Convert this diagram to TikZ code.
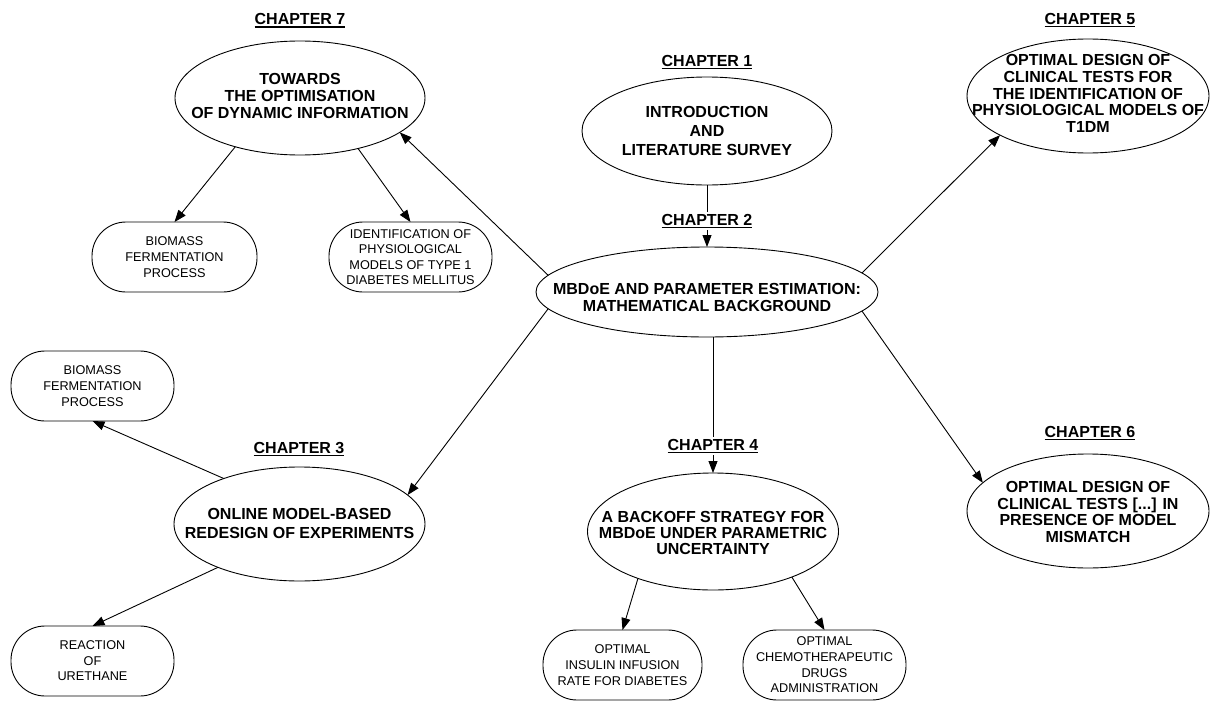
\documentclass[tikz,border=0pt]{standalone}
\usepackage{fontspec}
\setmainfont{Liberation Sans}
\usetikzlibrary{shapes.geometric,arrows.meta}
% underlined chapter heading with a controlled rule
\newcommand\chapul[1]{\setbox0\hbox{#1}\rlap{\rule[-2.8pt]{\wd0}{1.3pt}}\box0}
\begin{document}
\begin{tikzpicture}[x=1pt,y=-1pt,
  every node/.style={inner sep=0pt, outer sep=0pt},
  chapter/.style={font=\fontsize{16}{19}\selectfont\bfseries, anchor=base, inner sep=2pt},
  topic/.style={draw, ellipse, line width=0.9pt, inner sep=0pt},
  topictext/.style={align=center, font=\fontsize{16}{#1}\selectfont\bfseries},
  topictext/.default=17,
  casebox/.style={draw, rounded corners=34pt, line width=0.9pt, align=center,
    font=\fontsize{12.7}{#1}\selectfont, minimum height=70pt},
  casebox/.default=15.7,
  link/.style={line width=0.9pt},
  arrowlink/.style={link, -{Triangle[length=12pt,width=9pt]}}
]
\useasboundingbox (0,0) rectangle (1210,701);

% ---- chapter ellipses ----
\node[topic, minimum width=250, minimum height=114] (c7) at (300,98) {};
\node[topictext] (c7t) at (300,96) {TOWARDS\\THE OPTIMISATION\\OF DYNAMIC INFORMATION};
\node[chapter] (L7) at (300,25) {\chapul{CHAPTER 7}};

\node[topic, minimum width=250, minimum height=108] (c1) at (707,131) {};
\node[topictext=19] (c1t) at (707,131) {INTRODUCTION\\AND\\LITERATURE SURVEY};
\node[chapter] (L1) at (707,66.5) {\chapul{CHAPTER 1}};

\node[topic, minimum width=342, minimum height=90] (c2) at (707,292) {};
\node[topictext] (c2t) at (707,297.5) {MBDoE AND PARAMETER ESTIMATION:\\MATHEMATICAL BACKGROUND};
\node[chapter] (L2) at (707,225) {\chapul{CHAPTER 2}};

\node[topic, minimum width=242, minimum height=114] (c5) at (1088,96) {};
\node[topictext=16.75] (c5t) at (1088,93.5) {OPTIMAL DESIGN OF\\CLINICAL TESTS FOR\\THE IDENTIFICATION OF\\PHYSIOLOGICAL MODELS OF\\T1DM};
\node[chapter] (L5) at (1090,24.5) {\chapul{CHAPTER 5}};

\node[topic, minimum width=251, minimum height=114] (c3) at (299.5,524) {};
\node[topictext=19] (c3t) at (299.5,523.5) {ONLINE MODEL-BASED\\REDESIGN OF EXPERIMENTS};
\node[chapter] (L3) at (299,453) {\chapul{CHAPTER 3}};

\node[topic, minimum width=251, minimum height=117] (c4) at (713,531.5) {};
\node[topictext=16] (c4t) at (713,533) {A BACKOFF STRATEGY FOR\\MBDoE UNDER PARAMETRIC\\UNCERTAINTY};
\node[chapter] (L4) at (713,450.5) {\chapul{CHAPTER 4}};

\node[topic, minimum width=242, minimum height=114] (c6) at (1088,511) {};
\node[topictext=16.7] (c6t) at (1088,512) {OPTIMAL DESIGN OF\\CLINICAL TESTS [...] IN\\PRESENCE OF MODEL\\MISMATCH};
\node[chapter] (L6) at (1090,437) {\chapul{CHAPTER 6}};

% ---- case-study boxes ----
\node[casebox=16, minimum width=165] (b1) at (174.5,257) {BIOMASS\\FERMENTATION\\PROCESS};
\node[casebox=15.3, minimum width=163] (id) at (410.5,257) {IDENTIFICATION OF\\PHYSIOLOGICAL\\MODELS OF TYPE 1\\DIABETES MELLITUS};
\node[casebox=16, minimum width=163] (b2) at (92.5,386) {BIOMASS\\FERMENTATION\\PROCESS};
\node[casebox=15.5, minimum width=163] (ur) at (92.5,661) {REACTION\\OF\\URETHANE};
\node[casebox=16, minimum width=159] (ins) at (622.5,665) {OPTIMAL\\INSULIN INFUSION\\RATE FOR DIABETES};
\node[casebox, minimum width=163] (che) at (824.5,665) {OPTIMAL\\CHEMOTHERAPEUTIC\\DRUGS\\ADMINISTRATION};

% ---- connectors ----
\draw[link] (c1.south) -- (L2.north);
\draw[arrowlink] (L2.south) -- (c2.north);
\draw[link] (c2.south -| L4.north) -- (L4.north);
\draw[arrowlink] (L4.south) -- (c4.north);

\draw[arrowlink] (c2.174.3) -- (c7.341.6);
\draw[arrowlink] (c2.186.3) -- (c3.15.9);
\draw[arrowlink] (c2.7.3) -- (c5.204.9);
\draw[arrowlink] (c2.353.5) -- (c6.165.6);

\draw[arrowlink] (c7.217.6) -- (b1.north);
\draw[arrowlink] (c7.319.2) -- (id.north);
\draw[arrowlink] (c3.149.3) -- (b2.south);
\draw[arrowlink] (c3.208.4) -- (ur.north);
\draw[arrowlink] (c4.212.7) -- (ins.north);
\draw[arrowlink] (c4.330.6) -- (che.north);
\end{tikzpicture}
\end{document}
